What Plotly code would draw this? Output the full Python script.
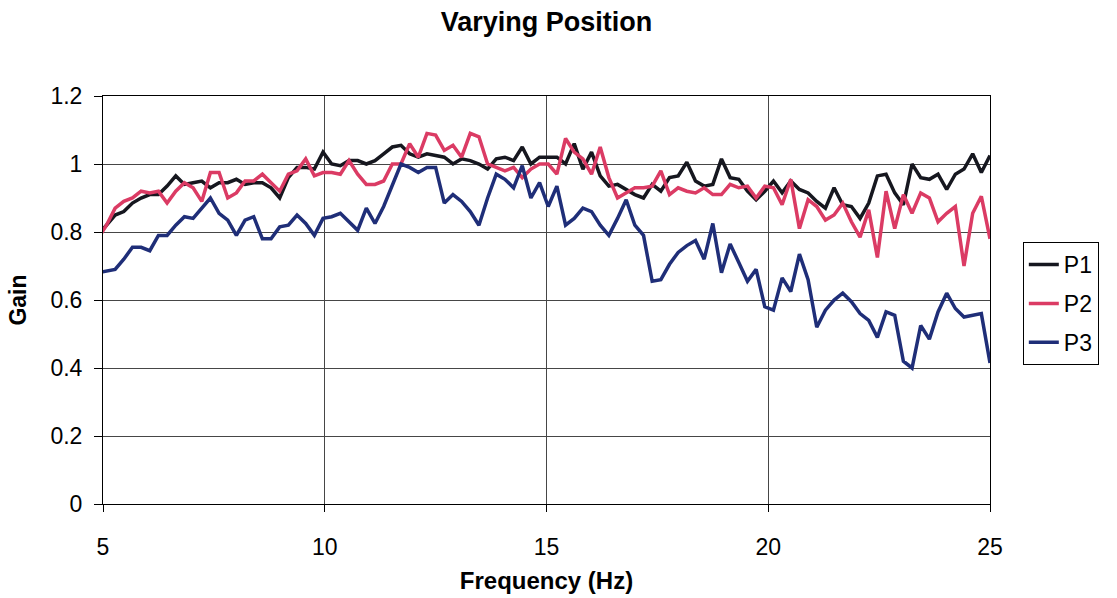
import plotly.graph_objects as go

# Frequency resolution of the analysis (Hz per bin) and first bin shown
FREQ_RES = 0.1953125
FIRST_BIN = 25

P1 = [0.79, 0.82, 0.85, 0.86, 0.885, 0.90, 0.91, 0.91, 0.935, 0.965,
      0.94, 0.945, 0.95, 0.93, 0.945, 0.945, 0.955, 0.94, 0.945, 0.945,
      0.93, 0.90, 0.96, 0.99, 0.99, 0.985, 1.035, 1.0, 0.995, 1.01,
      1.01, 1.0, 1.01, 1.03, 1.05, 1.055, 1.03, 1.02, 1.03, 1.025,
      1.02, 1.0, 1.015, 1.01, 1.0, 0.985, 1.015, 1.02, 1.01, 1.05,
      1.0, 1.02, 1.02, 1.02, 1.0, 1.06, 0.985, 1.035, 0.965, 0.935,
      0.94, 0.925, 0.91, 0.90, 0.94, 0.92, 0.96, 0.965, 1.005, 0.95,
      0.935, 0.94, 1.015, 0.96, 0.955, 0.92, 0.895, 0.92, 0.95, 0.915,
      0.95, 0.925, 0.915, 0.89, 0.87, 0.93, 0.88, 0.875, 0.84, 0.885,
      0.965, 0.97, 0.915, 0.88, 1.0, 0.96, 0.955, 0.97, 0.925, 0.97,
      0.985, 1.03, 0.975, 1.025]

P2 = [0.78, 0.82, 0.87, 0.89, 0.90, 0.92, 0.915, 0.92, 0.885, 0.92,
      0.945, 0.93, 0.89, 0.975, 0.975, 0.90, 0.915, 0.95, 0.95, 0.97,
      0.945, 0.92, 0.97, 0.98, 1.015, 0.965, 0.975, 0.975, 0.97, 1.01,
      0.97, 0.94, 0.94, 0.95, 1.0, 1.0, 1.06, 1.02, 1.09, 1.085,
      1.04, 1.055, 1.02, 1.09, 1.08, 1.0, 0.99, 0.98, 0.99, 0.96,
      0.985, 1.0, 1.0, 0.97, 1.075, 1.035, 1.015, 0.97, 1.05, 0.96,
      0.90, 0.915, 0.93, 0.93, 0.935, 0.98, 0.91, 0.93, 0.92, 0.915,
      0.93, 0.91, 0.91, 0.94, 0.93, 0.935, 0.90, 0.935, 0.93, 0.88,
      0.955, 0.81, 0.895, 0.875, 0.835, 0.85, 0.885, 0.83, 0.785, 0.865,
      0.725, 0.92, 0.81, 0.91, 0.855, 0.915, 0.90, 0.83, 0.855, 0.875,
      0.70, 0.855, 0.905, 0.78]

P3 = [0.68, 0.686, 0.69, 0.72, 0.755, 0.755, 0.745, 0.79, 0.79, 0.82,
      0.845, 0.84, 0.87, 0.90, 0.855, 0.835, 0.79, 0.835, 0.845, 0.78,
      0.78, 0.815, 0.82, 0.85, 0.825, 0.79, 0.84, 0.845, 0.855, 0.83,
      0.805, 0.87, 0.825, 0.875, 0.935, 1.0, 0.99, 0.975, 0.99, 0.99,
      0.885, 0.91, 0.89, 0.86, 0.82, 0.90, 0.97, 0.955, 0.93, 0.995,
      0.90, 0.945, 0.875, 0.935, 0.82, 0.84, 0.87, 0.86, 0.82, 0.79,
      0.84, 0.895, 0.82, 0.79, 0.655, 0.66, 0.705, 0.74, 0.76, 0.775,
      0.72, 0.825, 0.68, 0.765, 0.71, 0.655, 0.69, 0.58, 0.57, 0.665,
      0.625, 0.735, 0.66, 0.52, 0.57, 0.60, 0.62, 0.595, 0.56, 0.54,
      0.49, 0.565, 0.555, 0.42, 0.40, 0.525, 0.485, 0.565, 0.62, 0.575,
      0.55, 0.555, 0.56, 0.415]

freq = [(FIRST_BIN + i) * FREQ_RES for i in range(len(P1))]

SERIES = [("P1", P1, "#16171f"), ("P2", P2, "#db3b64"), ("P3", P3, "#1f2e78")]

FONT = "Liberation Sans, Arial, sans-serif"

fig = go.Figure()
for name, vals, color in SERIES:
    fig.add_trace(go.Scatter(
        x=freq, y=vals, mode="lines", name=name, legendgroup=name,
        line=dict(color=color, width=3.5),
    ))

axis_common = dict(
    showgrid=True, gridcolor="#464646", gridwidth=1,
    showline=True, linecolor="black", linewidth=1, mirror=True,
    ticks="outside", tickcolor="black",
    tickfont=dict(family=FONT, size=23, color="black"),
    zeroline=False, automargin=False,
)

fig.update_layout(
    width=1117, height=598,
    margin=dict(l=103, r=127, t=96, b=94),
    paper_bgcolor="white", plot_bgcolor="white",
    title=dict(text="Varying Position", x=0.5, xref="paper",
               y=1 - 22 / 598, yref="container", yanchor="middle",
               font=dict(family=FONT, size=27, color="black", weight="bold")),
    xaxis=dict(range=[5, 25], tick0=5, dtick=5, ticklen=7,
               ticklabelstandoff=15,
               title=dict(text="Frequency (Hz)", standoff=13,
                          font=dict(family=FONT, size=24, color="black", weight="bold")),
               **axis_common),
    yaxis=dict(range=[0, 1.2], tick0=0, dtick=0.2, ticklen=8,
               ticklabelstandoff=7,
               title=dict(text="Gain", standoff=17,
                          font=dict(family=FONT, size=23, color="black", weight="bold")),
               **axis_common),
    legend=dict(x=1.037, y=0.642, xanchor="left", yanchor="top",
                bordercolor="black", borderwidth=1, bgcolor="white",
                traceorder="grouped", tracegroupgap=6,
                font=dict(family=FONT, size=23, color="black")),
    showlegend=True,
)

fig.write_html("out.html")
